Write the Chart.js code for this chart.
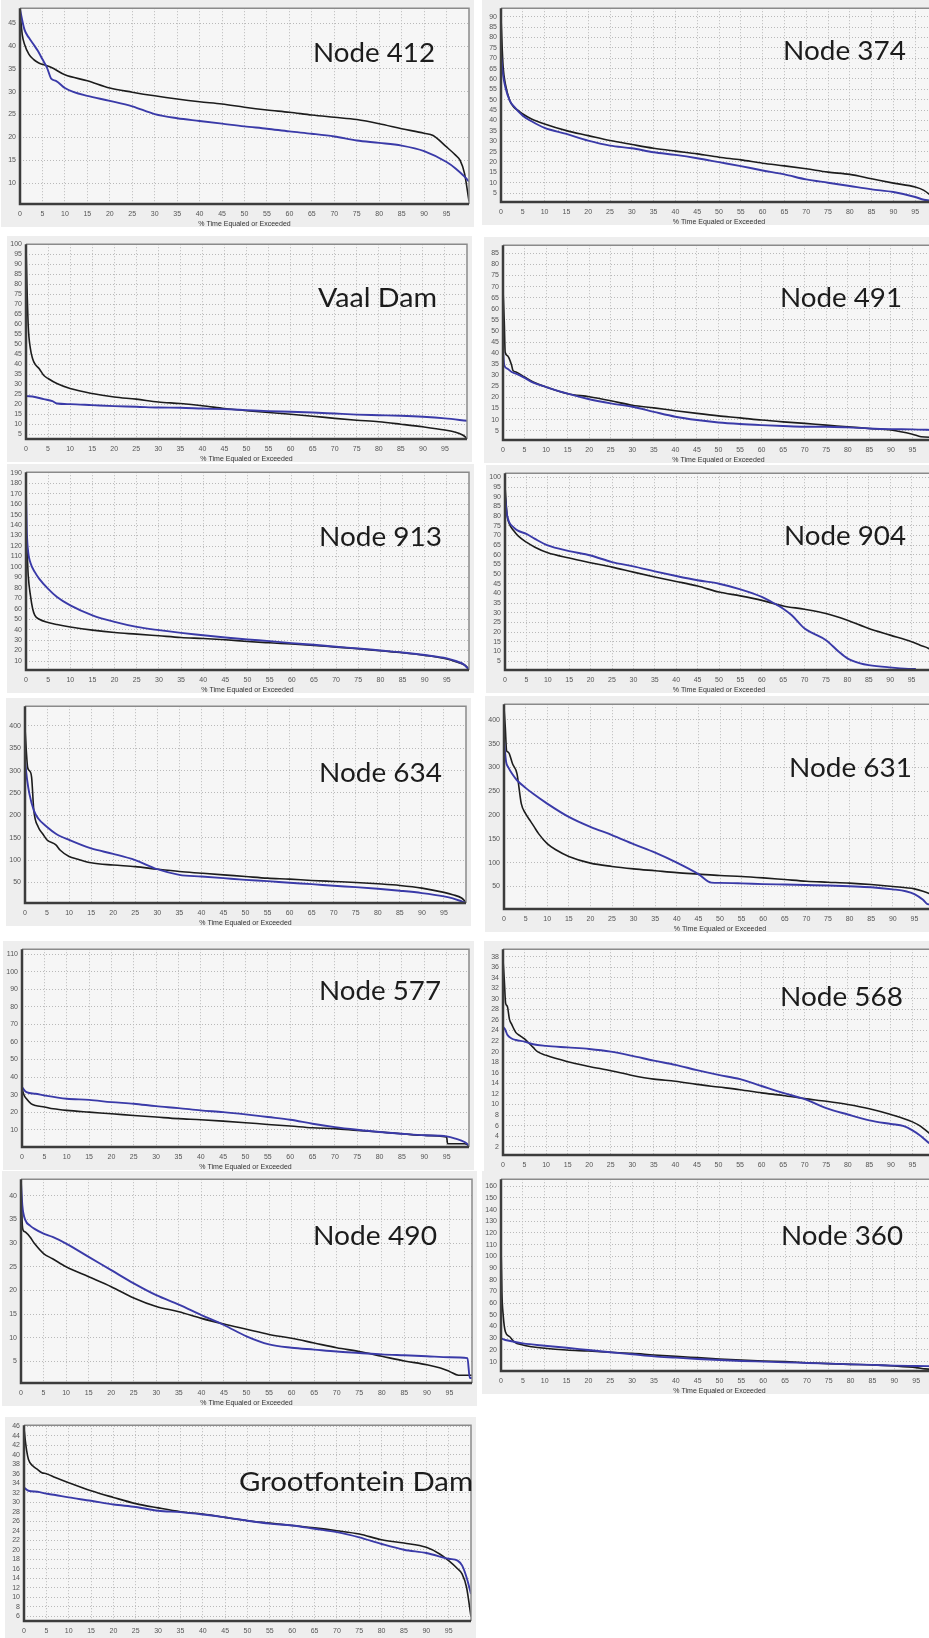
<!DOCTYPE html>
<html><head><meta charset="utf-8">
<script src="https://cdn.jsdelivr.net/npm/chart.js@4.4.1/dist/chart.umd.min.js"></script>
<style>
html,body{margin:0;padding:0;background:#fff;}
#page{position:relative;width:929px;height:1638px;overflow:hidden;background:#fff;}
.panel{position:absolute;background:#eeeeee;z-index:0;}
canvas{position:absolute;z-index:1;}
.lbl{position:absolute;white-space:nowrap;font-family:Lato,"Open Sans",sans-serif;color:#1c1c1c;transform-origin:0 0;z-index:5;}
</style></head><body><div id="page"></div>
<script>
// ---------- shared ----------
const X_TICKS = [0,5,10,15,20,25,30,35,40,45,50,55,60,65,70,75,80,85,90,95];
const X_TITLE = '% Time Equaled or Exceeded';

// ---------- Node 412 ----------
const N412_BLACK_X = [0,0.5,1,2,3,4,5,7,10,15,20,25,30,35,40,45,50,55,60,65,70,75,80,85,90,92,95,97,98,99,100];
const N412_BLACK_Y = [47.6,42.5,40.4,38.2,37.1,36.4,36,35.3,33.7,32.4,30.8,29.9,29.1,28.4,27.8,27.3,26.6,26,25.5,24.9,24.4,23.9,23,21.9,20.9,20.4,17.9,16.1,15,12.1,6];
const N412_BLUE_X = [0,1,2,3,4,5,6,7,8,10,12,15,20,25,30,35,40,45,50,55,60,65,70,75,80,85,90,95,97,99,100];
const N412_BLUE_Y = [48,43.6,41.8,40.4,38.9,37.1,35.3,32.8,32.4,30.8,29.9,29.1,28,26.8,25.1,24.2,23.6,23,22.4,21.9,21.3,20.8,20.2,19.3,18.8,18.2,17,14.6,13.2,11.4,10.3];
const N412_Y_RANGE = [5.4,48.3];
const N412_Y_TICKS = [10,15,20,25,30,35,40,45];

// ---------- Node 374 ----------
const N374_BLACK_X = [0,0.3,0.5,1,2,3,4,5,7,10,15,20,25,30,35,40,45,50,55,60,65,70,75,80,85,90,95,97,99,100];
const N374_BLACK_Y = [90,73.6,65.6,57.6,49.6,46.3,44.7,43.1,40.7,38.3,35.1,32.7,30.3,28.4,26.6,25.2,23.9,22.3,21,19.4,18.1,16.7,15.1,14,11.9,9.8,7.9,6.3,3.1,1.5];
const N374_BLUE_X = [0,0.5,1,2,3,5,7,10,15,20,25,30,35,40,45,50,55,60,65,70,75,80,85,90,95,97,100];
const N374_BLUE_Y = [72,61.6,56,49.6,46.7,42.3,39.6,36.4,33.5,30.3,27.9,26.6,24.7,23.4,21.8,19.9,18,15.9,14,11.6,10,8.4,6.8,5.5,3.1,1.8,1];
const N374_Y_RANGE = [0.7,94.1];
const N374_Y_TICKS = [5,10,15,20,25,30,35,40,45,50,55,60,65,70,75,80,85,90];

// ---------- Vaal Dam ----------
const VAAL_BLACK_X = [0,0.2,0.5,1,1.5,2,3,4,5,7,10,15,20,25,30,35,40,45,50,55,60,65,70,75,80,85,90,95,97,99,100];
const VAAL_BLACK_Y = [99,81,59.4,47.8,42.8,40.3,37.8,34.5,32.9,30.4,27.9,25.4,23.7,22.6,21.2,20.4,19.3,17.9,16.8,15.9,15.1,14.1,13,12.1,11.3,10.1,8.8,7.2,6.3,4.7,3];
const VAAL_BLUE_X = [0,2,4,6,7,10,15,20,25,30,35,40,45,50,55,60,65,70,75,80,85,90,95,100];
const VAAL_BLUE_Y = [24.2,23.7,22.6,21.6,20.4,20.1,19.6,19.1,18.8,18.4,18.3,17.9,17.6,17.1,16.6,16.3,15.9,15.4,14.9,14.6,14.3,13.8,13,11.8];
const VAAL_Y_RANGE = [2.7,100];
const VAAL_Y_TICKS = [5,10,15,20,25,30,35,40,45,50,55,60,65,70,75,80,85,90,95,100];

// ---------- Node 491 ----------
const N491_BLACK_X = [0,0.3,0.5,1,2,2.3,3,5,7,10,15,20,25,30,35,40,45,50,55,60,65,70,75,80,85,90,95,97,100];
const N491_BLACK_Y = [68.8,53.9,40.4,38.9,34.5,32.2,31.5,29.2,27,24.7,21.7,20.3,18.5,16.5,15.3,14,12.8,11.7,10.8,9.8,9,8.3,7.5,6.8,6,5.3,3.4,2.3,2];
const N491_BLUE_X = [0,0.3,1,2,3,5,7,10,15,20,25,30,35,40,45,50,55,60,65,70,75,80,85,90,95,100];
const N491_BLUE_Y = [41.2,34.5,33,31.5,30.7,28.8,26.7,24.7,21.7,19.2,17.3,15.8,13.5,11.3,9.8,8.7,8,7.5,7.1,6.8,6.8,6.5,6,5.7,5.6,5.3];
const N491_Y_RANGE = [0.8,88.7];
const N491_Y_TICKS = [5,10,15,20,25,30,35,40,45,50,55,60,65,70,75,80,85];

// ---------- Node 913 ----------
const N913_BLACK_X = [0,0.3,0.5,1,1.5,2,3,5,7,10,15,20,25,30,35,40,45,50,55,60,65,70,75,80,85,90,95,97,99,100];
const N913_BLACK_Y = [130,110,92,72.7,60,53.7,49.9,46.8,44.9,42.6,39.5,37.2,35.7,34.1,32.5,31.5,30.3,28.7,27.4,26.2,24.9,23.3,21.7,19.8,17.9,15.4,11.9,9.4,6.2,2.4];
const N913_BLUE_X = [0,0.2,0.5,1,2,3,5,7,10,15,20,25,30,35,40,45,50,55,60,65,70,75,80,85,90,95,97,99,100];
const N913_BLUE_Y = [172,133,114,104,95,88.6,79,71.2,63.2,53.7,47.4,42.6,39.5,36.9,34.7,32.5,30.6,29,27.1,25.5,23.6,22,20.1,18.2,15.7,12.5,10,6.2,1.4];
const N913_Y_RANGE = [1.4,190.6];
const N913_Y_TICKS = [10,20,30,40,50,60,70,80,90,100,110,120,130,140,150,160,170,180,190];

// ---------- Node 904 ----------
const N904_BLACK_X = [0,0.3,0.5,1,2,3,5,7,10,15,20,25,30,35,40,45,50,55,60,65,70,75,80,85,90,95,97,99,100];
const N904_BLACK_Y = [95.7,85.4,80.3,76,72.5,69.9,66.5,63.9,61,58.3,55.9,53.6,51,48.5,46.2,43.8,40.7,38.7,36.4,33.5,31.8,29.6,26.1,21.8,18.4,15,13.2,11.5,9.8];
const N904_BLUE_X = [0,0.5,1,2,3,5,7,10,15,20,25,30,35,40,45,50,55,60,63,65,67,70,72,75,78,80,83,85,90,95,96];
const N904_BLUE_Y = [90.6,80.3,76.8,74.2,72.5,70.8,68.2,64.8,61.9,59.6,56.2,54,51.4,49,46.8,45,42.1,38.2,34.7,32.1,28.7,21.8,19.3,15.8,9.8,6.4,3.8,2.9,1.7,0.9,0.9];
const N904_Y_RANGE = [0.36,102.2];
const N904_Y_TICKS = [5,10,15,20,25,30,35,40,45,50,55,60,65,70,75,80,85,90,95,100];

// ---------- Node 634 ----------
const N634_BLACK_X = [0,0.3,0.6,1,1.5,2,3,4,5,7,8,10,12,15,20,25,30,35,40,45,50,55,60,65,70,75,80,85,90,95,97,99,100];
const N634_BLACK_Y = [396,344,307,300,285,211,174,159,145,134,122,108,102,94,89,85.5,79.6,74.4,70.7,67,63.3,59.6,57.4,54.4,52.2,50,47,43.3,37.4,27.8,22.6,15.2,5.6];
const N634_BLUE_X = [0,0.5,1,2,3,5,7,10,15,20,25,30,35,40,45,50,55,60,65,70,75,80,85,90,95,97,99,100];
const N634_BLUE_Y = [322,278,248,211,193,174,159,145,126,114,100,79.6,67,63.3,59.6,55.9,53,49.3,46.3,42.6,39.6,35.9,31.5,26.3,18.9,14.5,7.8,4.1];
const N634_Y_RANGE = [4.1,444];
const N634_Y_TICKS = [50,100,150,200,250,300,350,400];

// ---------- Node 631 ----------
const N631_BLACK_X = [0,0.3,0.6,1,2,3,4,5,6,7,8,10,12,15,20,25,30,35,40,45,50,55,60,65,70,75,80,85,90,95,97,99,100];
const N631_BLACK_Y = [426,384,335,332,307,287,224,203,189,175,161,140,127,113,99,92,87,83,79,76,73,71,68,64.5,61,59,57,54,50,45,40,33,29];
const N631_BLUE_X = [0,0.5,1,2,3,5,7,10,15,20,25,30,35,40,45,48,50,55,60,65,70,75,80,85,90,93,95,97,98,100];
const N631_BLUE_Y = [356,311,300,285,273,257,243,224,196,175,158,139,121,100,76,58,57.5,56.5,55,54,53,52,50.5,48.5,44,40,34,22,13,11];
const N631_Y_RANGE = [2.7,432.7];
const N631_Y_TICKS = [50,100,150,200,250,300,350,400];

// ---------- Node 577 ----------
const N577_BLACK_X = [0,0.5,1,2,3,5,7,10,15,20,25,30,35,40,45,50,55,60,65,70,75,80,85,90,95,95.2,99,100];
const N577_BLACK_Y = [33.3,29.5,27.6,24.8,23.8,22.9,21.9,21,20,19.1,18.1,17.2,16.3,15.7,14.9,14,13,12.1,11.1,10.6,9.6,8.7,7.7,6.8,5.8,2,2,1];
const N577_BLUE_X = [0,1,3,5,10,15,20,25,30,35,40,45,50,55,60,65,70,75,80,85,90,95,97,99,100];
const N577_BLUE_Y = [34.2,31.4,30.5,29.5,27.6,27,25.7,24.8,23.4,22.3,21,20,18.7,17.2,15.7,13.4,11.5,10,8.7,7.7,6.8,6.2,4.9,3,1.1];
const N577_Y_RANGE = [0.15,112.8];
const N577_Y_TICKS = [10,20,30,40,50,60,70,80,90,100,110];

// ---------- Node 568 ----------
const N568_BLACK_X = [0,0.3,0.6,1,1.5,2,3,4,5,7,8,10,15,20,25,30,35,40,45,50,55,60,65,70,75,80,85,90,95,97,99,100];
const N568_BLACK_Y = [37.4,33.6,29.2,28.6,26.1,25.2,23.6,23,22.4,20.8,20,19.3,18.1,17.2,16.4,15.5,14.8,14.4,13.8,13.3,12.8,12.2,11.7,11.1,10.6,10,9.2,8.1,6.7,5.8,4.5,4];
const N568_BLUE_X = [0,0.5,1,2,3,5,7,10,15,20,25,30,35,40,45,50,55,60,65,70,75,80,85,90,93,95,97,99,100];
const N568_BLUE_Y = [24.7,24.2,23.2,22.5,22.2,21.9,21.4,21.1,20.8,20.5,20,19.2,18.3,17.5,16.5,15.6,14.8,13.5,12.2,11,9.3,8.1,7,6.3,5.9,5.1,4,2.6,2.1];
const N568_Y_RANGE = [0.43,39.4];
const N568_Y_TICKS = [2,4,6,8,10,12,14,16,18,20,22,24,26,28,30,32,34,36,38];

// ---------- Node 490 ----------
const N490_BLACK_X = [0,0.3,0.5,1,2,3,5,7,10,15,20,25,30,35,40,45,50,55,60,65,70,75,80,85,90,93,95,97,100];
const N490_BLACK_Y = [42,33.7,32.7,32.3,31.3,29.9,27.8,26.7,25,22.9,20.8,18.4,16.6,15.5,14.1,12.9,11.8,10.7,9.9,8.9,7.9,7.1,6.1,5.1,4.3,3.6,2.9,2.1,2.1];
const N490_BLUE_X = [0,0.3,1,2,3,5,7,10,15,20,25,30,35,40,45,50,55,60,65,70,75,80,85,90,95,99,99.5,100];
const N490_BLUE_Y = [42.8,37.9,34.8,33.7,33,32,31.3,29.9,27.1,24.3,21.5,19,17,14.8,12.7,10.3,8.6,7.9,7.5,7.1,6.8,6.5,6.3,6.1,5.9,5.7,1.5,1.5];
const N490_Y_RANGE = [0.45,43.5];
const N490_Y_TICKS = [5,10,15,20,25,30,35,40];

// ---------- Node 360 ----------
const N360_BLACK_X = [0,0.2,0.5,1,2,3,5,7,10,15,20,25,30,35,40,45,50,55,60,65,70,75,80,85,90,95,97,100];
const N360_BLACK_Y = [112,69.7,49.8,35.6,31.3,27,24.2,22.8,21.4,19.9,19.1,18,17.1,15.7,14.5,13.4,12.3,11.4,10.6,10,9.1,8.3,7.7,7.2,6.3,4.9,3.8,2.9];
const N360_BLUE_X = [0,1,3,5,10,15,20,25,30,35,40,45,50,55,60,65,70,75,80,85,90,95,100];
const N360_BLUE_Y = [29.9,28.5,27,25.6,23.6,21.9,19.9,18,16.3,14.5,13.4,12.3,11.4,10.6,10,9.4,8.9,8.3,7.7,7.2,6.6,6.3,6];
const N360_Y_RANGE = [2,166];
const N360_Y_TICKS = [10,20,30,40,50,60,70,80,90,100,110,120,130,140,150,160];

// ---------- Grootfontein Dam ----------
const GROOT_BLACK_X = [0,0.3,0.6,1,2,3,4,5,7,10,15,20,25,30,35,40,45,50,55,60,65,70,75,80,85,90,93,95,97,98,99,100];
const GROOT_BLACK_Y = [45.6,42.9,40.8,39,37.6,36.9,36.2,36,35.2,34.1,32.4,31,29.7,28.8,28,27.5,26.8,26.1,25.6,25.1,24.6,24,23.3,22.1,21.4,20.5,19.1,17.7,16,14.9,12.1,5.9];
const GROOT_BLUE_X = [0,1,3,5,7,10,15,20,25,30,35,40,45,50,55,60,65,70,75,80,85,90,95,97,98,99,100];
const GROOT_BLUE_Y = [33.1,32.4,32.2,31.8,31.5,31,30.3,29.5,29,28.2,27.9,27.4,26.8,26.1,25.5,25.1,24.4,23.7,22.6,21.2,20,19.3,18.1,17.7,16.7,14.2,10.7];
const GROOT_Y_RANGE = [5,46.2];
const GROOT_Y_TICKS = [6,8,10,12,14,16,18,20,22,24,26,28,30,32,34,36,38,40,42,44,46];

// ---------- panel list (data refs + layout) ----------
const PANELS = [
 {name:'Node 412', bx:N412_BLACK_X, by:N412_BLACK_Y, ux:N412_BLUE_X, uy:N412_BLUE_Y, yr:N412_Y_RANGE, yt:N412_Y_TICKS, rect:[20,7,469,204], lbl:[313,62,122], title:true},
 {name:'Node 374', bx:N374_BLACK_X, by:N374_BLACK_Y, ux:N374_BLUE_X, uy:N374_BLUE_Y, yr:N374_Y_RANGE, yt:N374_Y_TICKS, rect:[501,7,937,202], lbl:[783,60,123], title:true},
 {name:'Vaal Dam', bx:VAAL_BLACK_X, by:VAAL_BLACK_Y, ux:VAAL_BLUE_X, uy:VAAL_BLUE_Y, yr:VAAL_Y_RANGE, yt:VAAL_Y_TICKS, rect:[26,243,467,439], lbl:[318,307,119], title:true},
 {name:'Node 491', bx:N491_BLACK_X, by:N491_BLACK_Y, ux:N491_BLUE_X, uy:N491_BLUE_Y, yr:N491_Y_RANGE, yt:N491_Y_TICKS, rect:[503,244,934,440], lbl:[780,307,122], title:true},
 {name:'Node 913', bx:N913_BLACK_X, by:N913_BLACK_Y, ux:N913_BLUE_X, uy:N913_BLUE_Y, yr:N913_Y_RANGE, yt:N913_Y_TICKS, rect:[26,471,469,670], lbl:[319,546,123], title:true},
 {name:'Node 904', bx:N904_BLACK_X, by:N904_BLACK_Y, ux:N904_BLUE_X, uy:N904_BLUE_Y, yr:N904_Y_RANGE, yt:N904_Y_TICKS, rect:[505,472,933,670], lbl:[784,545,122], title:true},
 {name:'Node 634', bx:N634_BLACK_X, by:N634_BLACK_Y, ux:N634_BLUE_X, uy:N634_BLUE_Y, yr:N634_Y_RANGE, yt:N634_Y_TICKS, rect:[25,705,466,903], lbl:[319,782,123], title:true},
 {name:'Node 631', bx:N631_BLACK_X, by:N631_BLACK_Y, ux:N631_BLUE_X, uy:N631_BLUE_Y, yr:N631_Y_RANGE, yt:N631_Y_TICKS, rect:[504,703,936,909], lbl:[789,777,123], title:true},
 {name:'Node 577', bx:N577_BLACK_X, by:N577_BLACK_Y, ux:N577_BLUE_X, uy:N577_BLUE_Y, yr:N577_Y_RANGE, yt:N577_Y_TICKS, rect:[22,948,469,1147], lbl:[319,1000,122], title:true},
 {name:'Node 568', bx:N568_BLACK_X, by:N568_BLACK_Y, ux:N568_BLUE_X, uy:N568_BLUE_Y, yr:N568_Y_RANGE, yt:N568_Y_TICKS, rect:[503,948,934,1155], lbl:[780,1006,123], title:false},
 {name:'Node 490', bx:N490_BLACK_X, by:N490_BLACK_Y, ux:N490_BLUE_X, uy:N490_BLUE_Y, yr:N490_Y_RANGE, yt:N490_Y_TICKS, rect:[21,1178,472,1383], lbl:[313,1245,124], title:true},
 {name:'Node 360', bx:N360_BLACK_X, by:N360_BLACK_Y, ux:N360_BLUE_X, uy:N360_BLUE_Y, yr:N360_Y_RANGE, yt:N360_Y_TICKS, rect:[501,1178,938,1371], lbl:[781,1245,122], title:true},
 {name:'Grootfontein Dam', bx:GROOT_BLACK_X, by:GROOT_BLACK_Y, ux:GROOT_BLUE_X, uy:GROOT_BLUE_Y, yr:GROOT_Y_RANGE, yt:GROOT_Y_TICKS, rect:[24,1424,471,1621], lbl:[239,1491,234], title:true}
];

Chart.defaults.font.family = "'Liberation Sans', Arial, sans-serif";
const page = document.getElementById('page');
const zip = (xs, ys) => xs.map((x, i) => ({x: x, y: ys[i]}));

const framePlugin = {
  id: 'frame',
  beforeDraw(chart) {
    const a = chart.chartArea, c = chart.ctx;
    c.save(); c.fillStyle = '#f6f6f6'; c.fillRect(a.left, a.top, a.right - a.left, a.bottom - a.top); c.restore();
  },
  afterDraw(chart) {
    const a = chart.chartArea, c = chart.ctx;
    c.save();
    c.strokeStyle = '#8a8a8a'; c.lineWidth = 1.5;
    c.beginPath(); c.moveTo(a.left, a.top); c.lineTo(a.right, a.top); c.lineTo(a.right, a.bottom); c.stroke();
    c.strokeStyle = '#3c3c3c'; c.lineWidth = 2.5;
    c.beginPath(); c.moveTo(a.left, a.top); c.lineTo(a.left, a.bottom); c.lineTo(a.right, a.bottom); c.stroke();
    c.restore();
  }
};

function addPanelBg(p) {
  const [L, T, R, B] = p.rect;
  const bg = document.createElement('div');
  bg.className = 'panel';
  bg.style.left = (L - 19) + 'px'; bg.style.top = (T - 7) + 'px';
  bg.style.width = (R - L + 24) + 'px'; bg.style.height = (B - T + 7 + (p.title ? 23 : 17)) + 'px';
  page.appendChild(bg);
}

function makePanel(p) {
  const [L, T, R, B] = p.rect;
  const yW = 22, padTop = 7, xH = p.title ? 24 : 16;
  const cv = document.createElement('canvas');
  const w = (R - L) + yW + 3, h = (B - T) + padTop + xH;
  cv.width = w; cv.height = h;
  cv.style.left = (L - yW) + 'px'; cv.style.top = (T - padTop) + 'px';
  cv.style.width = w + 'px'; cv.style.height = h + 'px';
  page.appendChild(cv);

  const gridCommon = {color: '#b9b9b9', lineWidth: 1, drawTicks: false};
  new Chart(cv, {
    type: 'line',
    data: {datasets: [
      {label: 'blue', data: zip(p.ux, p.uy), borderColor: '#3a3aa8', borderWidth: 1.9},
      {label: 'black', data: zip(p.bx, p.by), borderColor: '#1c1c1c', borderWidth: 1.6}
    ]},
    options: {
      responsive: false, animation: false, devicePixelRatio: 1,
      layout: {padding: {top: padTop, right: 3, left: 0, bottom: 0}},
      plugins: {legend: {display: false}, tooltip: {enabled: false}, title: {display: false}},
      elements: {point: {radius: 0}, line: {cubicInterpolationMode: 'monotone', fill: false}},
      scales: {
        x: {
          type: 'linear', min: 0, max: 100,
          afterBuildTicks: s => { s.ticks = X_TICKS.map(v => ({value: v})); },
          afterFit: s => { s.height = xH; },
          grid: gridCommon,
          border: {display: false, dash: [1, 2]},
          ticks: {font: {size: 7}, color: '#555', padding: 6, maxRotation: 0, autoSkip: false},
          title: {display: p.title, text: X_TITLE, font: {size: 7}, color: '#333', padding: {top: 0, bottom: 0}}
        },
        y: {
          type: 'linear', min: p.yr[0], max: p.yr[1],
          afterBuildTicks: s => { s.ticks = p.yt.map(v => ({value: v})); },
          afterFit: s => { s.width = yW; },
          grid: gridCommon,
          border: {display: false, dash: [1, 2]},
          ticks: {font: {size: 7}, color: '#555', padding: 4, autoSkip: false}
        }
      }
    },
    plugins: [framePlugin]
  });
}

function addLabel(text, x, baseline, width) {
  const fs = 26.5;
  const ctx = document.createElement('canvas').getContext('2d');
  ctx.font = fs + 'px Lato';
  const m = ctx.measureText(text);
  const A = m.fontBoundingBoxAscent || fs * 0.99, D = m.fontBoundingBoxDescent || fs * 0.21;
  const d = document.createElement('div');
  d.className = 'lbl';
  d.textContent = text;
  d.style.fontSize = fs + 'px';
  d.style.lineHeight = (A + D) + 'px';
  d.style.left = x + 'px';
  d.style.top = (baseline - A) + 'px';
  d.style.transform = 'scaleX(' + (width / m.width) + ')';
  page.appendChild(d);
}

PANELS.forEach(addPanelBg);
PANELS.forEach(makePanel);
PANELS.forEach(p => addLabel(p.name, p.lbl[0], p.lbl[1], p.lbl[2]));
</script>
</body></html>
